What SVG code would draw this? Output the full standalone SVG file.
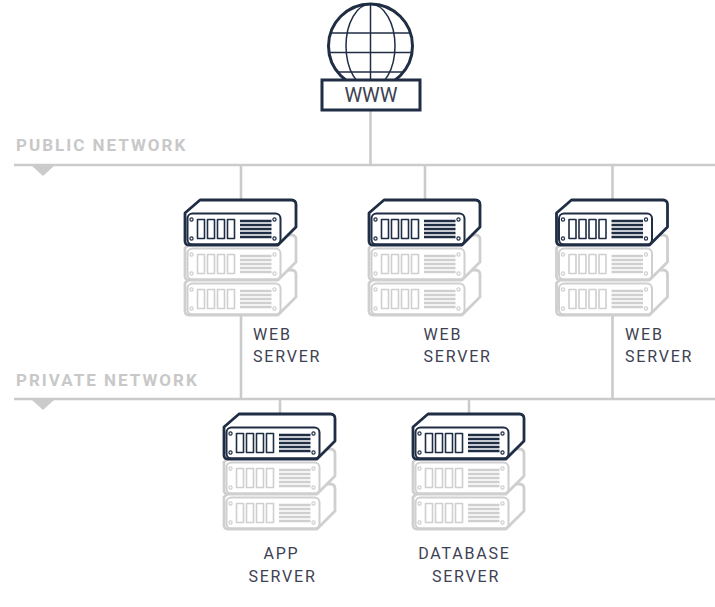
<svg xmlns="http://www.w3.org/2000/svg" xmlns:xlink="http://www.w3.org/1999/xlink" width="715" height="607" viewBox="0 0 715 607">
<style>
.net{stroke:#cbcbcb;stroke-width:2.6;fill:none}
.tri{fill:#cbcbcb}
.netlbl{font-family:Roboto,"Liberation Sans",sans-serif;font-weight:700;font-size:17px;letter-spacing:2px;fill:#c8c8c8}
.lbl{font-family:Roboto,"Liberation Sans",sans-serif;font-size:16px;letter-spacing:1.8px;fill:#3d4152}
.dk{stroke:#1f2d45;fill:none}
</style>
<defs>
<g id="srv" fill="none" stroke="currentColor" stroke-linejoin="round">
  <path d="M0,41 Q0,45 4,45 L93,45 L111,27 L111,4.5 Q111,0 106.5,0 L15,0 L0,13 Z" fill="#fff" stroke-width="2.8"/>
  <rect x="2.5" y="13.5" width="93" height="31" rx="5" stroke-width="2"/>
  <g stroke-width="1.2">
    <circle cx="6.5" cy="19.5" r="1.6"/>
    <circle cx="6.5" cy="38.5" r="1.6"/>
    <circle cx="89.5" cy="19.5" r="1.6"/>
    <circle cx="89.5" cy="38.5" r="1.6"/>
  </g>
  <g stroke-width="1.6">
    <rect x="12.5" y="19.5" width="7" height="19"/>
    <rect x="22.5" y="19.5" width="7" height="19"/>
    <rect x="32.5" y="19.5" width="7" height="19"/>
    <rect x="42.5" y="19.5" width="7" height="19"/>
  </g>
  <path d="M55,21H86.5M55,25H86.5M55,29H86.5M55,33H86.5M55,37H86.5" stroke-width="2.3"/>
</g>
<g id="stack">
  <use xlink:href="#srv" href="#srv" y="70" style="color:#cfcfcf"/>
  <use xlink:href="#srv" href="#srv" y="35" style="color:#cfcfcf"/>
  <use xlink:href="#srv" href="#srv" style="color:#1f2d45"/>
</g>
</defs>

<g id="connectors">
  <line class="net" x1="14" y1="165" x2="715" y2="165"/>
  <polygon class="tri" points="32,166 54,166 43,176"/>
  <line class="net" x1="14" y1="399" x2="715" y2="399"/>
  <polygon class="tri" points="32,400 54,400 43,410"/>
  <line class="net" x1="370.5" y1="110" x2="370.5" y2="165"/>
  <line class="net" x1="241" y1="165" x2="241" y2="399"/>
  <line class="net" x1="425" y1="165" x2="425" y2="230"/>
  <line class="net" x1="612.5" y1="165" x2="612.5" y2="399"/>
  <line class="net" x1="280" y1="399" x2="280" y2="430"/>
  <line class="net" x1="469" y1="399" x2="469" y2="430"/>
</g>

<g id="public-network">
  <text class="netlbl" x="16" y="151">PUBLIC NETWORK</text>
</g>
<g id="private-network">
  <text class="netlbl" x="16" y="386">PRIVATE NETWORK</text>
</g>

<g id="www">
  <circle class="dk" cx="370.5" cy="46" r="42" stroke-width="3"/>
  <ellipse class="dk" cx="370.5" cy="46" rx="24.5" ry="42" stroke-width="1.5"/>
  <line class="dk" x1="370.5" y1="4" x2="370.5" y2="80" stroke-width="1.5"/>
  <line class="dk" x1="330.6" y1="33" x2="410.4" y2="33" stroke-width="1.5"/>
  <line class="dk" x1="329" y1="52.5" x2="412" y2="52.5" stroke-width="1.5"/>
  <line class="dk" x1="337.5" y1="72" x2="403.5" y2="72" stroke-width="1.5"/>
  <rect x="322" y="80" width="98" height="30" fill="#fff" stroke="#1f2d45" stroke-width="3"/>
  <text x="371" y="101.5" text-anchor="middle" font-family="Roboto,'Liberation Sans',sans-serif" font-size="20" fill="#3d4152">WWW</text>
</g>

<g id="web-server-1">
  <use xlink:href="#stack" href="#stack" x="185" y="200"/>
  <text class="lbl" x="253" y="340">WEB</text>
  <text class="lbl" x="253" y="361.5">SERVER</text>
</g>
<g id="web-server-2">
  <use xlink:href="#stack" href="#stack" x="369" y="200"/>
  <text class="lbl" x="423.5" y="340">WEB</text>
  <text class="lbl" x="423.5" y="361.5">SERVER</text>
</g>
<g id="web-server-3">
  <use xlink:href="#stack" href="#stack" x="556.5" y="200"/>
  <text class="lbl" x="625" y="340">WEB</text>
  <text class="lbl" x="625" y="361.5">SERVER</text>
</g>
<g id="app-server">
  <use xlink:href="#stack" href="#stack" x="224" y="414"/>
  <text class="lbl" x="281.5" y="559" text-anchor="middle">APP</text>
  <text class="lbl" x="282.5" y="582" text-anchor="middle">SERVER</text>
</g>
<g id="database-server">
  <use xlink:href="#stack" href="#stack" x="413" y="414"/>
  <text class="lbl" x="464.5" y="559" text-anchor="middle">DATABASE</text>
  <text class="lbl" x="466" y="582" text-anchor="middle">SERVER</text>
</g>
</svg>
